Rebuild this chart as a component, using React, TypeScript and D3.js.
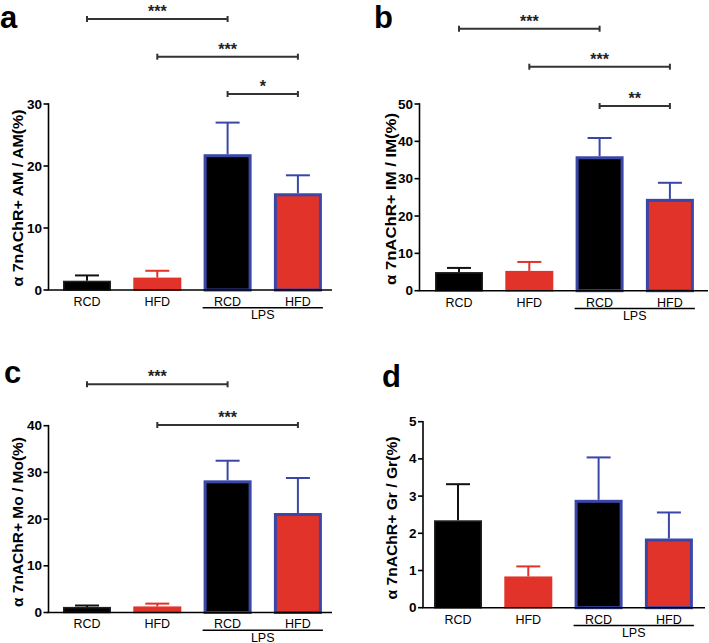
import React from "react";
import * as d3 from "d3";

// ---- data ----
const categories = ["RCD", "HFD", "RCD", "HFD"];
const lpsGroup = [false, false, true, true];
const groupLabel = "LPS";
const panelLetters = ["a", "b", "c", "d"];
const yTitles = [
  "α 7nAChR+ AM / AM(%)",
  "α 7nAChR+ IM / IM(%)",
  "α 7nAChR+ Mo / Mo(%)",
  "α 7nAChR+ Gr / Gr(%)",
];
const meansA = [1.5, 2.0, 21.9, 15.6];
const semA = [0.85, 1.1, 5.1, 2.9];
const meansB = [5.0, 5.3, 36.0, 24.6];
const semB = [1.1, 2.4, 4.9, 4.3];
const meansC = [1.2, 1.3, 28.3, 21.3];
const semC = [0.3, 0.6, 4.2, 7.5];
const meansD = [2.35, 0.84, 2.9, 1.86];
const semD = [0.97, 0.27, 1.14, 0.7];
const yMaxes = [30, 50, 40, 5];
const yTickSteps = [10, 10, 10, 1];
const compA: [number, number, string][] = [[0, 2, "***"], [1, 3, "***"], [2, 3, "*"]];
const compB: [number, number, string][] = [[0, 2, "***"], [1, 3, "***"], [2, 3, "**"]];
const compC: [number, number, string][] = [[0, 2, "***"], [1, 3, "***"]];
const compD: [number, number, string][] = [];

const allMeans = [meansA, meansB, meansC, meansD];
const allSem = [semA, semB, semC, semD];
const allComps = [compA, compB, compC, compD];

// ---- layout ----
const layouts = [
  { axisX: 48.5, axisY: 290, topY: 104, barStart: 63, axisEnd: 332, letterX: 0, letterY: 28, titleX: 18, titleY: 198, titleLen: 177, bracketYs: [19, 56.7, 94] },
  { axisX: 419.5, axisY: 290.7, topY: 104, barStart: 435, axisEnd: 708, letterX: 374, letterY: 28, titleX: 391, titleY: 199, titleLen: 172, bracketYs: [28.7, 66.7, 106] },
  { axisX: 48.5, axisY: 612.5, topY: 425.7, barStart: 63, axisEnd: 332, letterX: 4, letterY: 383, titleX: 18, titleY: 522, titleLen: 170, bracketYs: [384.3, 425] },
  { axisX: 423, axisY: 607.7, topY: 421.7, barStart: 434, axisEnd: 705, letterX: 382, letterY: 387, titleX: 392, titleY: 518, titleLen: 163, bracketYs: [] as number[] },
];
const STEP = 70.3;
const BARW = 48;
const RED = "#e1332a";
const BLUE = "#3a46a8";
const FONT = "'Liberation Sans', Arial, Helvetica, sans-serif";

function Panel({ idx }: { idx: number }) {
  const L = layouts[idx];
  const means = allMeans[idx];
  const sem = allSem[idx];
  const comps = allComps[idx];
  const y = d3.scaleLinear().domain([0, yMaxes[idx]]).range([L.axisY, L.topY]);
  const gap = STEP - BARW;
  const x = d3
    .scaleBand<number>()
    .domain(d3.range(categories.length))
    .range([L.barStart - gap / 2, L.barStart - gap / 2 + STEP * categories.length])
    .paddingInner(gap / STEP)
    .paddingOuter(gap / STEP / 2);
  const ticks = d3.range(0, yMaxes[idx] + 1e-9, yTickSteps[idx]);
  const cx = (i: number) => (x(i) as number) + x.bandwidth() / 2;
  const lpsIdx = categories.map((_, i) => i).filter((i) => lpsGroup[i]);
  const lpsL = (x(lpsIdx[0]) as number) - 1;
  const lpsR = (x(lpsIdx[lpsIdx.length - 1]) as number) + x.bandwidth() + 1;

  return (
    <g fontFamily={FONT}>
      <text x={L.letterX} y={L.letterY} fontSize={31} fontWeight="bold" fill="#000">
        {panelLetters[idx]}
      </text>
      <text
        transform={`translate(${L.titleX},${L.titleY}) rotate(-90)`}
        textAnchor="middle"
        dominantBaseline="central"
        fontSize={14}
        fontWeight="bold"
        textLength={L.titleLen}
        lengthAdjust="spacingAndGlyphs"
      >
        {yTitles[idx]}
      </text>
      {/* bars */}
      {means.map((m, i) => {
        const isL = lpsGroup[i];
        const fill = i % 2 === 0 ? "#000" : RED;
        const sw = isL ? 3 : 1.5;
        const stroke = isL ? BLUE : i % 2 === 0 ? "#222" : RED;
        const errColor = isL ? BLUE : i % 2 === 0 ? "#111" : RED;
        const x0 = x(i) as number;
        const yt = y(m);
        const ye = y(m + sem[i]);
        const c = cx(i);
        return (
          <g key={i}>
            <line x1={c} x2={c} y1={yt} y2={ye} stroke={errColor} strokeWidth={2} />
            <line x1={c - 12} x2={c + 12} y1={ye} y2={ye} stroke={errColor} strokeWidth={2} />
            <rect
              x={x0 + sw / 2}
              y={yt + sw / 2}
              width={x.bandwidth() - sw}
              height={Math.max(0, L.axisY - yt - sw / 2)}
              fill={fill}
              stroke={stroke}
              strokeWidth={sw}
            />
          </g>
        );
      })}
      {/* y axis */}
      <line x1={L.axisX} x2={L.axisX} y1={L.topY - 0.8} y2={L.axisY} stroke="#000" strokeWidth={1.6} />
      {ticks.map((t) => (
        <g key={t}>
          <line x1={L.axisX - 5} x2={L.axisX} y1={y(t)} y2={y(t)} stroke="#000" strokeWidth={1.6} />
          <text
            x={L.axisX - 6.5}
            y={y(t)}
            textAnchor="end"
            dominantBaseline="central"
            fontSize={13.5}
            fontWeight="bold"
          >
            {t}
          </text>
        </g>
      ))}
      {/* x axis */}
      <line x1={L.axisX - 0.8} x2={L.axisEnd} y1={L.axisY} y2={L.axisY} stroke="#000" strokeWidth={1.6} />
      {categories.map((c, i) => (
        <text key={i} x={cx(i)} y={L.axisY + 15.8} textAnchor="middle" fontSize={12.5}>
          {c}
        </text>
      ))}
      <line x1={lpsL} x2={lpsR} y1={L.axisY + 17.7} y2={L.axisY + 17.7} stroke="#000" strokeWidth={1.5} />
      <text x={(lpsL + lpsR) / 2} y={L.axisY + 29} textAnchor="middle" fontSize={12.5}>
        {groupLabel}
      </text>
      {/* significance brackets */}
      {comps.map(([a, b, lab], k) => {
        const yy = L.bracketYs[k];
        const x1 = cx(a);
        const x2 = cx(b);
        return (
          <g key={k}>
            <line x1={x1} x2={x2} y1={yy} y2={yy} stroke="#333" strokeWidth={2} />
            <line x1={x1} x2={x1} y1={yy - 3} y2={yy + 3} stroke="#333" strokeWidth={2} />
            <line x1={x2} x2={x2} y1={yy - 3} y2={yy + 3} stroke="#333" strokeWidth={2} />
            <text x={(x1 + x2) / 2} y={yy - 2} textAnchor="middle" fontSize={16} fontWeight="bold" fill="#222">
              {lab}
            </text>
          </g>
        );
      })}
    </g>
  );
}

export default function App() {
  return (
    <svg
      width={709}
      height={643}
      viewBox="0 0 709 643"
      style={{ position: "absolute", left: 0, top: 0, background: "#fff" }}
    >
      <rect width={709} height={643} fill="#fff" />
      {[0, 1, 2, 3].map((i) => (
        <Panel key={i} idx={i} />
      ))}
    </svg>
  );
}
